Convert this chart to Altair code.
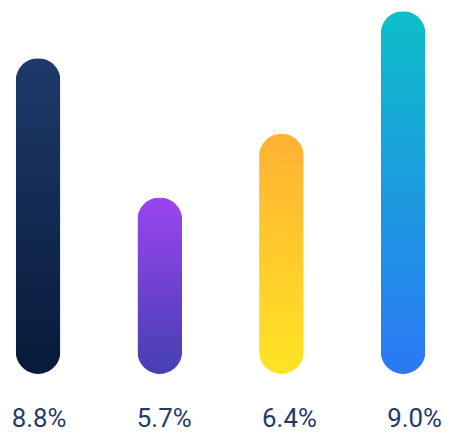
import altair as alt
import pandas as pd

labels = ["8.8%", "5.7%", "6.4%", "9.0%"]
bar_heights = [86.6, 48.4, 65.9, 99.5]
top_colors = ["#1e3a6a", "#9a45f0", "#ffb133", "#0dbec8"]
bottom_colors = ["#071a3a", "#4440b0", "#ffe424", "#2b78f5"]

df = pd.DataFrame({"label": labels, "height": bar_heights})


def grad(t, b):
    return {"gradient": "linear", "x1": 0, "y1": 0, "x2": 0, "y2": 1,
            "stops": [{"offset": 0, "color": t}, {"offset": 1, "color": b}]}


conds = [{"test": f"datum.label === '{l}'", "value": grad(t, b)}
         for l, t, b in zip(labels[:-1], top_colors[:-1], bottom_colors[:-1])]
fill = alt.FillValue(condition=conds, value=grad(top_colors[-1], bottom_colors[-1]))

bars = alt.Chart(df).mark_bar(size=45, cornerRadius=22.5).encode(
    x=alt.X("label:N", sort=labels,
            scale=alt.Scale(type="point", padding=0.2755, align=0.449), axis=None),
    y=alt.Y("height:Q", scale=alt.Scale(domain=[0, 100]), axis=None),
    fill=fill,
)

text = alt.Chart(df).mark_text(
    font="Roboto", fontSize=26, color="#1f3a6b", baseline="alphabetic", align="center"
).encode(
    x=alt.X("label:N", sort=labels,
            scale=alt.Scale(type="point", padding=0.225, align=0.55), axis=None),
    y=alt.value(420),
    text="label:N",
)

chart = alt.layer(bars, text).resolve_scale(x="independent").properties(
    width=435, height=367, padding=0, background="white"
).configure_view(stroke=None)

chart.save("out.html", embed_options={"renderer": "svg", "actions": False})
